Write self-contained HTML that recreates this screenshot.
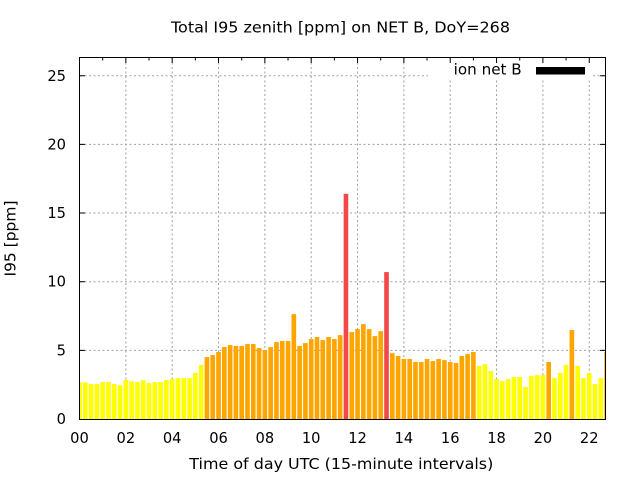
<!DOCTYPE html>
<html><head><meta charset="utf-8"><style>
html,body{margin:0;padding:0;background:#fff;}
svg{display:block;}
text{font-family:"DejaVu Sans","Liberation Sans",sans-serif;fill:#000;}
</style></head><body>
<svg width="640" height="480" viewBox="0 0 640 480" xmlns="http://www.w3.org/2000/svg">
<rect x="0" y="0" width="640" height="480" fill="#fff"/>
<defs><clipPath id="pc"><rect x="80" y="57.5" width="525" height="361.5"/></clipPath></defs>
<path fill="none" stroke="#a0a0a0" stroke-width="1" stroke-dasharray="2 2.5" d="M80 350.35H605M80 281.7H605M80 213.05H605M80 144.4H605M80 75.75H605M125.84 58V419M172.18 58V419M218.52 58V419M264.86 58V419M311.2 58V419M357.54 58V419M403.88 58V419M450.22 58V419M496.56 58V419M542.9 58V419M589.24 58V419"/>
<g clip-path="url(#pc)">
<g transform="translate(79.5,419) scale(5.7925,-13.73)">
<g fill="#ffff00">
<rect x="-0.4" width="0.8" height="2.67"/><rect x="0.6" width="0.8" height="2.67"/><rect x="1.6" width="0.8" height="2.55"/><rect x="2.6" width="0.8" height="2.55"/><rect x="3.6" width="0.8" height="2.69"/><rect x="4.6" width="0.8" height="2.69"/><rect x="5.6" width="0.8" height="2.55"/><rect x="6.6" width="0.8" height="2.45"/><rect x="7.6" width="0.8" height="2.84"/><rect x="8.6" width="0.8" height="2.74"/><rect x="9.6" width="0.8" height="2.69"/><rect x="10.6" width="0.8" height="2.82"/><rect x="11.6" width="0.8" height="2.62"/><rect x="12.6" width="0.8" height="2.69"/><rect x="13.6" width="0.8" height="2.69"/><rect x="14.6" width="0.8" height="2.84"/><rect x="15.6" width="0.8" height="2.91"/><rect x="16.6" width="0.8" height="2.98"/><rect x="17.6" width="0.8" height="2.98"/><rect x="18.6" width="0.8" height="2.98"/><rect x="19.6" width="0.8" height="3.35"/><rect x="20.6" width="0.8" height="3.93"/>
<rect x="68.6" width="0.8" height="3.86"/><rect x="69.6" width="0.8" height="4.0"/><rect x="70.6" width="0.8" height="3.49"/><rect x="71.6" width="0.8" height="2.91"/><rect x="72.6" width="0.8" height="2.77"/><rect x="73.6" width="0.8" height="2.91"/><rect x="74.6" width="0.8" height="3.06"/><rect x="75.6" width="0.8" height="3.06"/><rect x="76.6" width="0.8" height="2.33"/><rect x="77.6" width="0.8" height="3.13"/><rect x="78.6" width="0.8" height="3.2"/><rect x="79.6" width="0.8" height="3.2"/>
<rect x="81.6" width="0.8" height="2.98"/><rect x="82.6" width="0.8" height="3.35"/><rect x="83.6" width="0.8" height="3.93"/>
<rect x="85.6" width="0.8" height="3.86"/><rect x="86.6" width="0.8" height="2.98"/><rect x="87.6" width="0.8" height="3.35"/><rect x="88.6" width="0.8" height="2.55"/><rect x="89.6" width="0.8" height="2.98"/>
</g>
<g fill="#ffa500">
<rect x="21.6" width="0.8" height="4.51"/><rect x="22.6" width="0.8" height="4.66"/><rect x="23.6" width="0.8" height="4.88"/><rect x="24.6" width="0.8" height="5.24"/><rect x="25.6" width="0.8" height="5.39"/><rect x="26.6" width="0.8" height="5.32"/><rect x="27.6" width="0.8" height="5.32"/><rect x="28.6" width="0.8" height="5.46"/><rect x="29.6" width="0.8" height="5.46"/><rect x="30.6" width="0.8" height="5.17"/><rect x="31.6" width="0.8" height="5.02"/><rect x="32.6" width="0.8" height="5.24"/><rect x="33.6" width="0.8" height="5.6"/><rect x="34.6" width="0.8" height="5.68"/><rect x="35.6" width="0.8" height="5.68"/><rect x="36.6" width="0.8" height="7.64"/><rect x="37.6" width="0.8" height="5.32"/><rect x="38.6" width="0.8" height="5.53"/><rect x="39.6" width="0.8" height="5.82"/><rect x="40.6" width="0.8" height="5.97"/><rect x="41.6" width="0.8" height="5.75"/><rect x="42.6" width="0.8" height="5.97"/><rect x="43.6" width="0.8" height="5.82"/><rect x="44.6" width="0.8" height="6.11"/>
<rect x="46.6" width="0.8" height="6.33"/><rect x="47.6" width="0.8" height="6.55"/><rect x="48.6" width="0.8" height="6.91"/><rect x="49.6" width="0.8" height="6.55"/><rect x="50.6" width="0.8" height="6.04"/><rect x="51.6" width="0.8" height="6.4"/>
<rect x="53.6" width="0.8" height="4.8"/><rect x="54.6" width="0.8" height="4.59"/><rect x="55.6" width="0.8" height="4.37"/><rect x="56.6" width="0.8" height="4.37"/><rect x="57.6" width="0.8" height="4.15"/><rect x="58.6" width="0.8" height="4.15"/><rect x="59.6" width="0.8" height="4.37"/><rect x="60.6" width="0.8" height="4.22"/><rect x="61.6" width="0.8" height="4.37"/><rect x="62.6" width="0.8" height="4.29"/><rect x="63.6" width="0.8" height="4.15"/><rect x="64.6" width="0.8" height="4.08"/><rect x="65.6" width="0.8" height="4.59"/><rect x="66.6" width="0.8" height="4.73"/><rect x="67.6" width="0.8" height="4.88"/>
<rect x="80.6" width="0.8" height="4.15"/><rect x="84.6" width="0.8" height="6.48"/><rect x="90.6" width="0.8" height="4.88"/>
</g>
<g fill="#f34848">
<rect x="45.6" width="0.8" height="16.4"/><rect x="52.6" width="0.8" height="10.7"/>
</g>
</g>
</g>
<rect x="428" y="58" width="164" height="22" fill="#fff"/>
<text x="453.7" y="74.3" font-size="14.67" textLength="68" lengthAdjust="spacingAndGlyphs">ion net B</text>
<rect x="536" y="67" width="49" height="7.5" fill="#000"/>
<rect x="79.5" y="57.5" width="526" height="362" fill="none" stroke="#000" stroke-width="1"/>
<path fill="none" stroke="#000" stroke-width="1" d="M80 350.35h5M605 350.35h-5M80 281.7h5M605 281.7h-5M80 213.05h5M605 213.05h-5M80 144.4h5M605 144.4h-5M80 75.75h5M605 75.75h-5M125.84 58v5M172.18 58v5M218.52 58v5M264.86 58v5M311.2 58v5M357.54 58v5M403.88 58v5M450.22 58v5M496.56 58v5M542.9 58v5M589.24 58v5M102.67 58v2.5M149.01 58v2.5M195.35 58v2.5M241.69 58v2.5M288.03 58v2.5M334.37 58v2.5M380.71 58v2.5M427.05 58v2.5M473.39 58v2.5M519.73 58v2.5M566.07 58v2.5"/>
<g font-size="14.67" text-anchor="end">
<text x="66" y="424">0</text><text x="66" y="355.35">5</text><text x="66" y="286.7">10</text><text x="66" y="218.05">15</text><text x="66" y="149.4">20</text><text x="66" y="80.75">25</text>
</g>
<g font-size="14.67" text-anchor="middle">
<text x="79.5" y="443">00</text><text x="125.84" y="443">02</text><text x="172.18" y="443">04</text><text x="218.52" y="443">06</text><text x="264.86" y="443">08</text><text x="311.2" y="443">10</text><text x="357.54" y="443">12</text><text x="403.88" y="443">14</text><text x="450.22" y="443">16</text><text x="496.56" y="443">18</text><text x="542.9" y="443">20</text><text x="589.24" y="443">22</text>
</g>
<text x="171" y="32.5" font-size="14.67" textLength="339" lengthAdjust="spacingAndGlyphs">Total I95 zenith [ppm] on NET B, DoY=268</text>
<text x="189.3" y="469" font-size="14.67" textLength="304" lengthAdjust="spacingAndGlyphs">Time of day UTC (15-minute intervals)</text>
<text transform="translate(15.5,238.5) rotate(-90)" x="0" y="0" font-size="14.67" text-anchor="middle" textLength="76" lengthAdjust="spacingAndGlyphs">I95 [ppm]</text>
</svg>
</body></html>
